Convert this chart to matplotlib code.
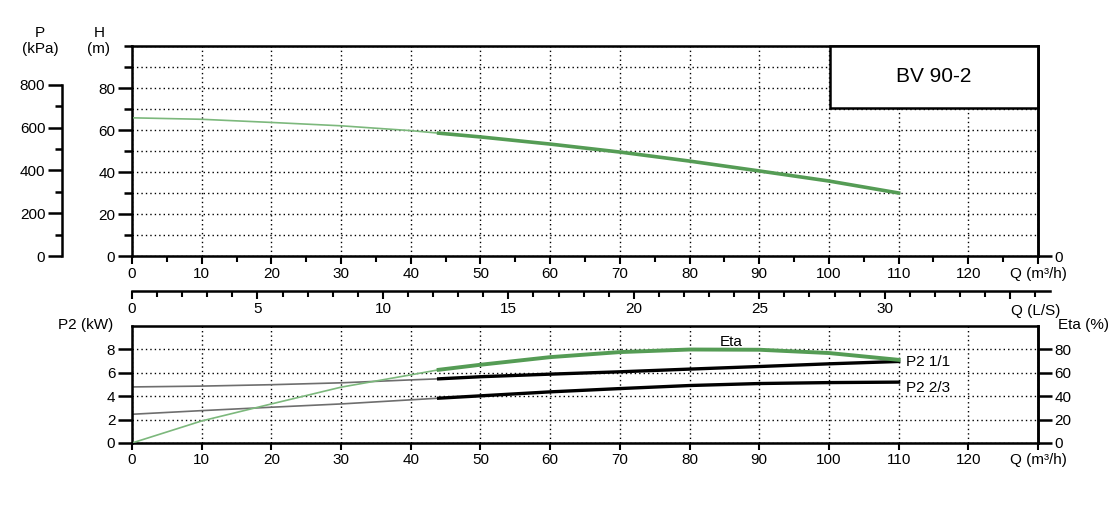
import numpy as np
import matplotlib
matplotlib.use('Agg')
import matplotlib.pyplot as plt
from matplotlib.patches import Rectangle
from matplotlib.ticker import FixedLocator

plt.rcParams['font.family'] = ['Liberation Sans', 'DejaVu Sans']
plt.rcParams['font.size'] = 11

# flow points (m3/h), 44 = start of the working range
q = [0, 10, 20, 30, 40, 44, 50, 60, 70, 80, 90, 100, 110]
head = [65.8, 65.1, 63.6, 62.0, 59.7, 58.5, 56.7, 53.3, 49.5, 45.2, 40.5, 35.7, 30.0]
p2_full = [4.78, 4.85, 4.97, 5.13, 5.38, 5.47, 5.65, 5.87, 6.07, 6.3, 6.52, 6.75, 6.95]
p2_23 = [2.45, 2.76, 3.05, 3.33, 3.68, 3.82, 4.02, 4.36, 4.64, 4.9, 5.07, 5.15, 5.19]
eta = [0, 18.8, 33.3, 47.6, 58.1, 62.4, 66.7, 73.2, 77.5, 79.7, 79.5, 76.7, 70.9]
q_start = 44

q_ticks = list(range(0, 131, 10))
q_labels = [str(v) for v in range(0, 121, 10)] + ['Q (m³/h)']
ls_ticks = list(range(0, 36, 5))
ls_labels = ['0', '5', '10', '15', '20', '25', '30', '']

W, H = 1117, 505
def fx(x): return x / W
def fy(y): return 1 - y / H

green = '#559c55'
green_thin = '#7cb87c'
grey_thin = '#6e6e6e'
dots = (0, (1, 2.2))

fig = plt.figure(figsize=(W / 100, H / 100), dpi=100)

q = np.array(q)
work = q >= q_start
thin = q <= q_start

# ---- top: head curve
ax_h = fig.add_axes([fx(132), fy(256), fx(1038) - fx(132), fy(46) - fy(256)])
ax_h.set_xlim(0, 130)
ax_h.set_ylim(0, 100)
ax_h.set_axisbelow(True)
for s in ax_h.spines.values():
    s.set_linewidth(1.8)
ax_h.set_xticks(q_ticks)
ax_h.set_xticklabels(q_labels)
ax_h.xaxis.set_minor_locator(FixedLocator(list(range(5, 130, 10))))
ax_h.yaxis.set_major_locator(FixedLocator([0, 20, 40, 60, 80]))
ax_h.yaxis.set_minor_locator(FixedLocator([10, 30, 50, 70, 90, 100]))
ax_h.tick_params(axis='x', which='major', direction='out', length=6, width=1.5, pad=2)
ax_h.tick_params(axis='x', which='minor', direction='out', length=4, width=1.5)
ax_h.tick_params(axis='y', which='major', direction='out', length=10, width=1.8, pad=2)
ax_h.tick_params(axis='y', which='minor', direction='out', length=6, width=1.8)
ax_h.grid(True, axis='y', which='both', linestyle=dots, color='k', lw=1)
ax_h.grid(True, axis='x', which='major', linestyle=dots, color='k', lw=1)
ax_h.plot(q[thin], np.array(head)[thin], color=green_thin, lw=1.2, zorder=4)
ax_h.plot(q[work], np.array(head)[work], color=green, lw=2.6, zorder=4)
ax_h.add_patch(Rectangle((100.1, 70.5), 29.9, 29.5, facecolor='white', edgecolor='k',
                         lw=1.8, zorder=3, clip_on=False))
ax_h.text(115, 85.5, 'BV 90-2', ha='center', va='center', fontsize=15, zorder=5)

ax_r = ax_h.twinx()
ax_r.set_ylim(0, 100)
ax_r.set_yticks([0])
ax_r.tick_params(axis='y', direction='out', length=10, width=1.8, pad=2)
ax_r.spines['right'].set_linewidth(1.8)

# pressure scale
ax_p = fig.add_axes([fx(62), fy(256), 0.0001, fy(46) - fy(256)])
ax_p.set_facecolor('none')
for k in ['top', 'right', 'bottom']:
    ax_p.spines[k].set_visible(False)
ax_p.spines['left'].set_bounds(0, 800)
ax_p.spines['left'].set_linewidth(1.8)
ax_p.set_xticks([])
ax_p.yaxis.set_major_locator(FixedLocator([0, 200, 400, 600, 800]))
ax_p.yaxis.set_minor_locator(FixedLocator([100, 300, 500, 700]))
ax_p.tick_params(axis='y', which='major', direction='out', length=10, width=1.8, pad=2)
ax_p.tick_params(axis='y', which='minor', direction='out', length=5, width=1.8)
ax_p.set_ylim(0, 100 * 9.81)

fig.text(fx(40), fy(33), 'P', ha='center', va='center')
fig.text(fx(40), fy(49), '(kPa)', ha='center', va='center')
fig.text(fx(99), fy(33), 'H', ha='center', va='center')
fig.text(fx(99), fy(49), '(m)', ha='center', va='center')

# ---- L/s scale
ax_ls = fig.add_axes([fx(132), fy(291), 36.6 * 25.09 / W, 0.0001])
ax_ls.set_facecolor('none')
ax_ls.set_xlim(0, 36.6)
for k in ['top', 'right', 'left']:
    ax_ls.spines[k].set_visible(False)
ax_ls.spines['bottom'].set_linewidth(1.8)
ax_ls.set_yticks([])
ax_ls.set_xticks(ls_ticks)
ax_ls.set_xticklabels(ls_labels)
ax_ls.xaxis.set_minor_locator(FixedLocator(list(range(0, 37))))
ax_ls.tick_params(axis='x', which='major', direction='out', length=6, width=1.5, pad=2)
ax_ls.tick_params(axis='x', which='minor', direction='out', length=4, width=1.5)
fig.text(fx(1036), fy(311), 'Q (L/S)', ha='center', va='center')

# ---- bottom: power and efficiency
ax_b = fig.add_axes([fx(132), fy(443), fx(1038) - fx(132), fy(325.7) - fy(443)])
ax_b.set_xlim(0, 130)
ax_b.set_ylim(0, 10)
ax_b.set_axisbelow(True)
for s in ax_b.spines.values():
    s.set_linewidth(1.8)
ax_b.set_xticks(q_ticks)
ax_b.set_xticklabels(q_labels)
ax_b.yaxis.set_major_locator(FixedLocator([0, 2, 4, 6, 8]))
ax_b.tick_params(axis='x', direction='out', length=5, width=1.5, pad=2)
ax_b.tick_params(axis='y', direction='out', length=10, width=1.8, pad=2)
ax_b.grid(True, linestyle=dots, color='k', lw=1)
ax_b.plot(q[thin], np.array(p2_full)[thin], color=grey_thin, lw=1.2)
ax_b.plot(q[work], np.array(p2_full)[work], color='k', lw=2.4)
ax_b.plot(q[thin], np.array(p2_23)[thin], color=grey_thin, lw=1.2)
ax_b.plot(q[work], np.array(p2_23)[work], color='k', lw=2.4)
ax_b.text(111, 6.92, 'P2 1/1', ha='left', va='center')
ax_b.text(111, 4.7, 'P2 2/3', ha='left', va='center')

ax_e = ax_b.twinx()
ax_e.set_ylim(0, 100)
ax_e.yaxis.set_major_locator(FixedLocator([0, 20, 40, 60, 80]))
ax_e.tick_params(axis='y', direction='out', length=10, width=1.8, pad=2)
ax_e.spines['right'].set_linewidth(1.8)
ax_e.plot(q[thin], np.array(eta)[thin], color=green_thin, lw=1.2)
ax_e.plot(q[work], np.array(eta)[work], color=green, lw=2.8)
ax_e.text(86, 86.5, 'Eta', ha='center', va='center')

fig.text(fx(113), fy(325), 'P2 (kW)', ha='right', va='center')
fig.text(fx(1058), fy(325), 'Eta (%)', ha='left', va='center')

fig.savefig('out.png', dpi=100)
